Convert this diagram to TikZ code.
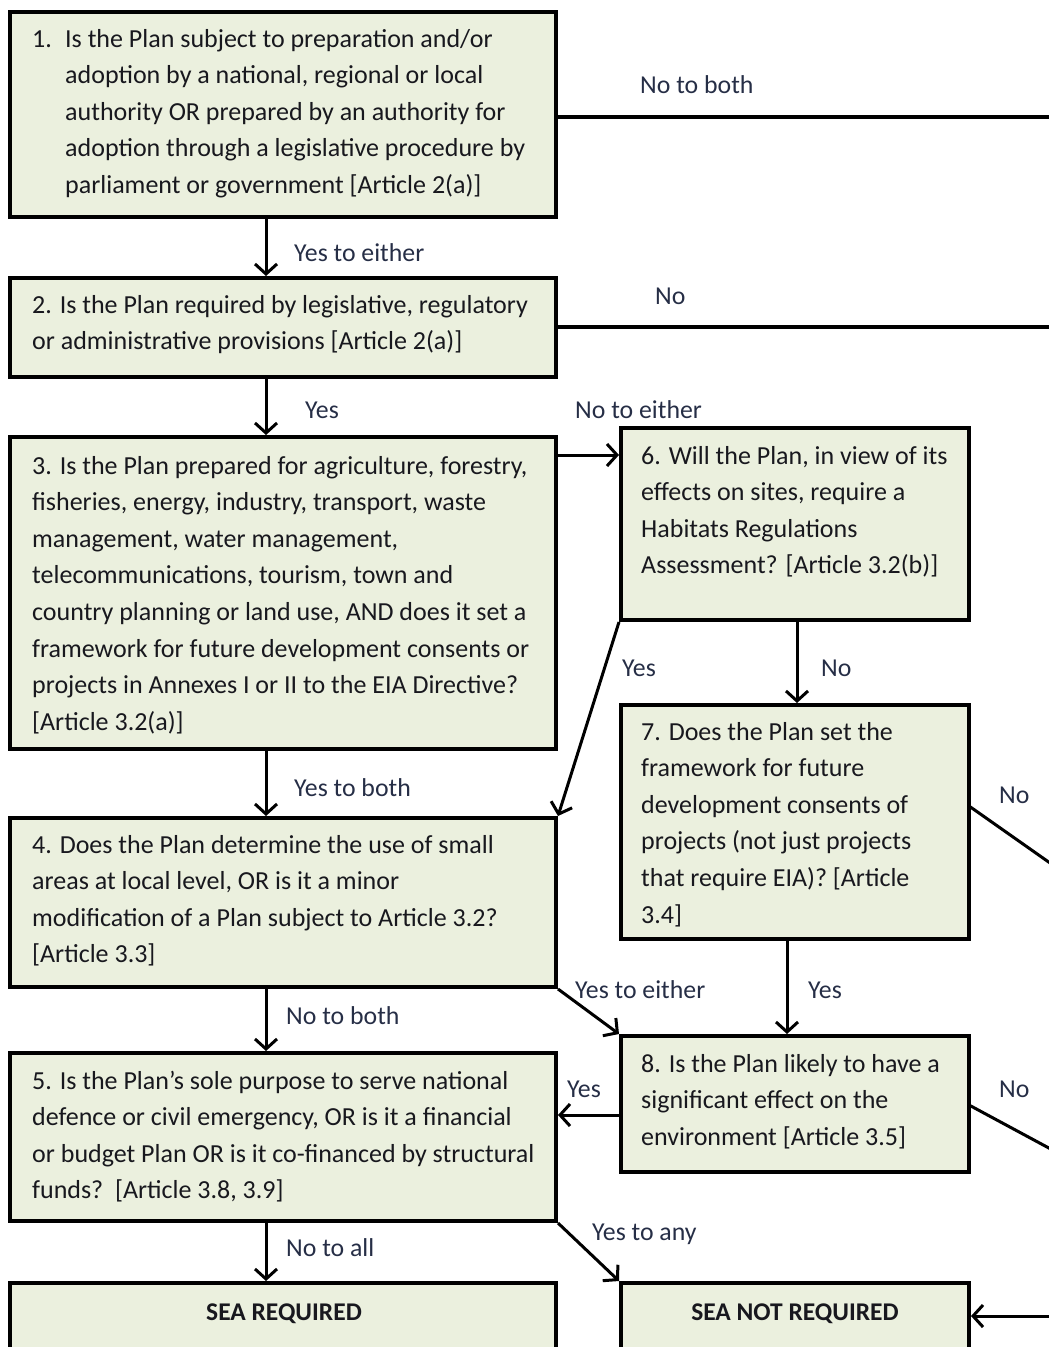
\documentclass[tikz,border=0pt]{standalone}
\usepackage{fontspec}
\setmainfont{Carlito}
\usetikzlibrary{arrows.meta}
\definecolor{boxfill}{RGB}{235,240,222}
\definecolor{txt}{RGB}{24,24,30}
\definecolor{lbl}{RGB}{38,46,70}
\newcommand\btxt[1]{\begin{tabular}[t]{@{}l@{}}#1\end{tabular}}
\begin{document}
\begin{tikzpicture}[x=1pt,y=-1pt,
  box/.style={draw=black,line width=4pt,fill=boxfill,inner sep=0pt},
  bt/.style={anchor=base west,inner sep=0pt,text=txt,font=\fontsize{26}{36.6}\selectfont},
  lb/.style={anchor=base west,inner sep=0pt,text=lbl,font=\fontsize{25.8}{30}\selectfont},
  arr/.style={line width=3pt,-{Straight Barb[length=10pt,width=22pt]}},
  ln/.style={line width=3pt},
  hl/.style={line width=4pt}]
\useasboundingbox (0,0) rectangle (1049,1347);
\clip (0,0) rectangle (1049,1347);
% boxes
\node[box,minimum width=546,minimum height=205] (b1) at (283,114.5) {};
\node[box,minimum width=546,minimum height=99] (b2) at (283,327.5) {};
\node[box,minimum width=546,minimum height=312] (b3) at (283,593) {};
\node[box,minimum width=546,minimum height=169] (b4) at (283,902.5) {};
\node[box,minimum width=546,minimum height=168] (b5) at (283,1137) {};
\node[box,minimum width=546,minimum height=140] (sr) at (283,1353) {};
\node[box,minimum width=348,minimum height=192] (b6) at (795,524) {};
\node[box,minimum width=348,minimum height=234] (b7) at (795,822) {};
\node[box,minimum width=348,minimum height=136] (b8) at (795,1104) {};
\node[box,minimum width=348,minimum height=140] (snr) at (795,1353) {};
% box texts
\node[bt] (t1) at (32,47) {\begin{tabular}[t]{@{}p{33pt}@{}l@{}}1. & Is the Plan subject to preparation and/or\\ & adoption by a national, regional or local\\ & authority OR prepared by an authority for\\ & adoption through a legislative procedure by\\ & parliament or government [Article 2(a)]\end{tabular}};
\node[bt] (t2) at (32,313) {\btxt{2. Is the Plan required by legislative, regulatory\\ or administrative provisions [Article 2(a)]}};
\node[bt] (t3) at (32,474) {\btxt{3. Is the Plan prepared for agriculture, forestry,\\ fisheries, energy, industry, transport, waste\\ management, water management,\\ telecommunications, tourism, town and\\ country planning or land use, AND does it set a\\ framework for future development consents or\\ projects in Annexes I or II to the EIA Directive?\\{}[Article 3.2(a)]}};
\node[bt] (t4) at (32,853) {\btxt{4. Does the Plan determine the use of small\\ areas at local level, OR is it a minor\\ modification of a Plan subject to Article 3.2?\\{}[Article 3.3]}};
\node[bt] (t5) at (32,1089) {\btxt{5. Is the Plan’s sole purpose to serve national\\ defence or civil emergency, OR is it a financial\\ or budget Plan OR is it co-financed by structural\\ funds?\ \ [Article 3.8, 3.9]}};
\node[bt] (t6) at (641,464) {\btxt{6. Will the Plan, in view of its\\ effects on sites, require a\\ Habitats Regulations\\ Assessment? [Article 3.2(b)]}};
\node[bt] (t7) at (641,740) {\btxt{7. Does the Plan set the\\ framework for future\\ development consents of\\ projects (not just projects\\ that require EIA)? [Article\\ 3.4]}};
\node[bt] (t8) at (641,1072) {\btxt{8. Is the Plan likely to have a\\ significant effect on the\\ environment [Article 3.5]}};
\node[bt,anchor=base,font=\fontsize{25.5}{30}\selectfont\bfseries] (tsr) at (284,1320) {SEA REQUIRED};
\node[bt,anchor=base,font=\fontsize{25.5}{30}\selectfont\bfseries] (tsnr) at (795,1320) {SEA NOT REQUIRED};
% off-edge coordinates
\coordinate (e1) at (1060,117);
\coordinate (e2) at (1060,327);
\coordinate (e7a) at (969,806);
\coordinate (e7) at (1060,870);
\coordinate (e8a) at (969,1105);
\coordinate (e8) at (1060,1154);
\coordinate (e9) at (1060,1316);
\coordinate (c36) at (0,455);
\coordinate (c85) at (0,1115);
% connectors
\draw[hl] (b1.east |- e1) -- (e1);
\draw[hl] (b2.east |- e2) -- (e2);
\draw[arr] ([xshift=-17pt]b1.south) -- ([xshift=-17pt]b2.north);
\draw[arr] ([xshift=-17pt]b2.south) -- ([xshift=-17pt]b3.north);
\draw[arr] ([xshift=-17pt]b3.south) -- ([xshift=-17pt]b4.north);
\draw[arr] ([xshift=-17pt]b4.south) -- ([xshift=-17pt]b5.north);
\draw[arr] ([xshift=-17pt]b5.south) -- ([xshift=-17pt]sr.north);
\draw[arr] (b3.east |- c36) -- (b6.west |- c36);
\draw[arr] (b6.south west) -- (b4.north east);
\draw[arr] ([xshift=2pt]b6.south) -- ([xshift=2pt]b7.north);
\draw[ln] (e7a) -- (e7);
\draw[arr] (b4.south east) -- (b8.north west);
\draw[arr] ([xshift=-8pt]b7.south) -- ([xshift=-8pt]b8.north);
\draw[arr] (b8.west |- c85) -- (b5.east |- c85);
\draw[ln] (e8a) -- (e8);
\draw[arr] (b5.south east) -- (snr.north west);
\draw[arr] (e9) -- (snr.east |- e9);
% labels
\node[lb] (l1) at (640,93) {No to both};
\node[lb] (l2) at (655,304) {No};
\node[lb] (l3) at (294,261) {Yes to either};
\node[lb] (l4) at (305,418) {Yes};
\node[lb] (l5) at (575,418) {No to either};
\node[lb] (l6) at (622,676) {Yes};
\node[lb] (l7) at (821,676) {No};
\node[lb] (l8) at (294,796) {Yes to both};
\node[lb] (l9) at (999,803) {No};
\node[lb] (l10) at (575,998) {Yes to either};
\node[lb] (l11) at (808,998) {Yes};
\node[lb] (l12) at (286,1024) {No to both};
\node[lb] (l13) at (567,1097) {Yes};
\node[lb] (l14) at (999,1097) {No};
\node[lb] (l15) at (286,1256) {No to all};
\node[lb] (l16) at (592,1240) {Yes to any};
\end{tikzpicture}
\end{document}
